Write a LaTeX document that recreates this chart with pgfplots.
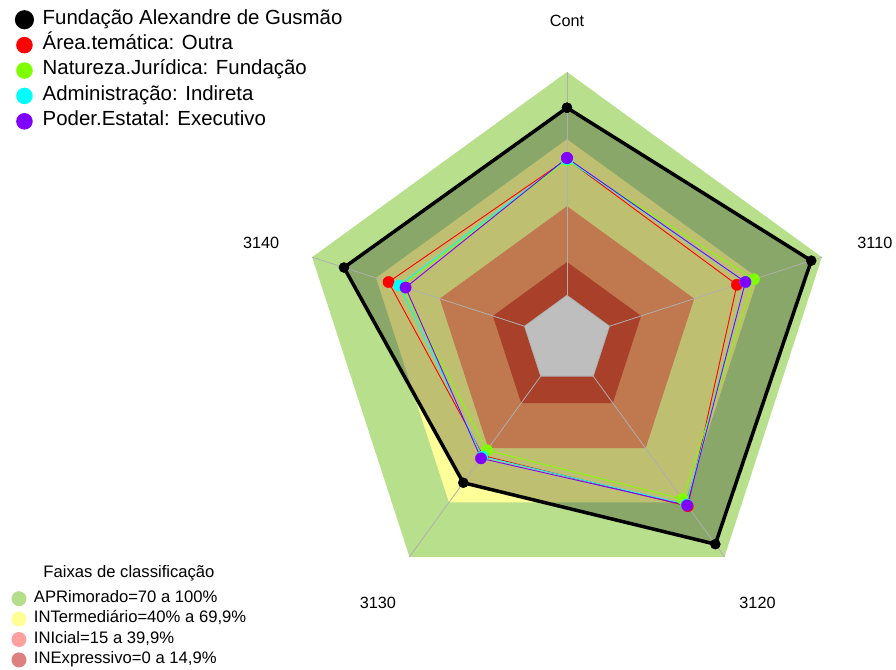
\documentclass[border=0pt]{standalone}
\usepackage{pgfplots}
\pgfplotsset{compat=1.18}
\usepackage{pgfplotstable}
\usepgfplotslibrary{polar}
\usepackage{fontspec}
\setmainfont{Liberation Sans}

\definecolor{aprF}{RGB}{184,224,140}
\definecolor{intF}{RGB}{255,255,153}
\definecolor{iniF}{RGB}{192,120,78}
\definecolor{ineF}{RGB}{168,64,42}
\definecolor{ctrF}{RGB}{190,190,190}
\definecolor{aprL}{RGB}{181,222,138}
\definecolor{intL}{RGB}{255,255,150}
\definecolor{iniL}{RGB}{255,160,160}
\definecolor{ineL}{RGB}{222,128,128}
\definecolor{sgreen}{RGB}{127,255,0}
\definecolor{scyan}{RGB}{0,255,255}
\definecolor{spurple}{RGB}{128,0,255}
\definecolor{gridc}{RGB}{175,175,175}

% angle of each axis (Cont, 3110, 3120, 3130, 3140), first row repeated to close
\pgfplotstableread{
ang apr int ini ine zero
90  100 69.9 39.9 14.9 0
18  100 69.9 39.9 14.9 0
306 100 69.9 39.9 14.9 0
234 100 69.9 39.9 14.9 0
162 100 69.9 39.9 14.9 0
90  100 69.9 39.9 14.9 0
}\bands

\pgfplotstableread{
ang black red green cyan purple
90  84 61 60.5 61   61.5
18  95 60 68   64   64
306 93 72 68   71   71.5
234 59 44 41   44.5 45.5
162 85 64 58   59   56
90  84 61 60.5 61   61.5
}\series

\begin{document}
\begin{tikzpicture}
\useasboundingbox (-567bp,-330bp) rectangle (329bp,340bp);
\pgfplotsset{radar/.style={width=536bp,height=536bp,scale only axis,hide axis,clip=false,
  xmin=0,xmax=360,ymin=0,ymax=120,at={(0,0)},anchor=center}}
\begin{polaraxis}[radar,
  legend cell align=left,
  legend image code/.code={\fill[#1] (0bp,0bp) circle (7.5bp);},
  legend style={at={(-0.5364,0.0364)},anchor=north west,draw=none,fill=none,
    inner sep=0pt,outer sep=0pt,row sep=0pt,
    font=\fontsize{16.7}{20}\selectfont,
    nodes={inner sep=0pt,text height=14bp,text depth=6.4bp},
    /tikz/every odd column/.append style={column sep=7.5bp}}]
\addplot[fill=aprF,draw=none,forget plot] table[x=ang,y expr=\thisrow{apr}+20]{\bands};
\addplot[fill=intF,draw=none,forget plot] table[x=ang,y expr=\thisrow{int}+20]{\bands};
\addplot[fill=black,fill opacity=0.25,draw=none,forget plot] table[x=ang,y expr=\thisrow{black}+20]{\series};
\addplot[fill=iniF,draw=none,forget plot] table[x=ang,y expr=\thisrow{ini}+20]{\bands};
\addplot[fill=ineF,draw=none,forget plot] table[x=ang,y expr=\thisrow{ine}+20]{\bands};
\addplot[fill=ctrF,draw=gridc,line width=0.8bp,forget plot] table[x=ang,y expr=\thisrow{zero}+20]{\bands};
\addplot[gridc,line width=0.8bp,forget plot] coordinates {(90,20) (90,120)};
\addplot[gridc,line width=0.8bp,forget plot] coordinates {(18,20) (18,120)};
\addplot[gridc,line width=0.8bp,forget plot] coordinates {(306,20) (306,120)};
\addplot[gridc,line width=0.8bp,forget plot] coordinates {(234,20) (234,120)};
\addplot[gridc,line width=0.8bp,forget plot] coordinates {(162,20) (162,120)};
\addlegendimage{fill=aprL,draw=none}\addlegendentry{APRimorado=70 a 100\%}
\addlegendimage{fill=intL,draw=none}\addlegendentry{INTermediário=40\% a 69,9\%}
\addlegendimage{fill=iniL,draw=none}\addlegendentry{INIcial=15 a 39,9\%}
\addlegendimage{fill=ineL,draw=none}\addlegendentry{INExpressivo=0 a 14,9\%}
\end{polaraxis}
\begin{polaraxis}[radar,
  legend cell align=left,
  legend image code/.code={\fill[#1] (0bp,0bp) circle (7.8bp);},
  legend style={at={(-0.5300,1.1212)},anchor=north west,draw=none,fill=none,
    inner sep=0pt,outer sep=0pt,row sep=0pt,
    font=\fontsize{20.5}{24}\selectfont,
    nodes={inner sep=0pt,text height=17bp,text depth=8.4bp},
    /tikz/every odd column/.append style={column sep=8.7bp}}]
\addplot[black,line width=3.5bp,line join=round,mark=*,mark size=5bp,mark options={line width=0.5bp}]
  table[x=ang,y expr=\thisrow{black}+20]{\series};
\addlegendentry{Fundação Alexandre de Gusmão}
\addplot[red,line width=0.9bp,mark=*,mark size=5.7bp,mark options={line width=0.3bp}]
  table[x=ang,y expr=\thisrow{red}+20]{\series};
\addlegendentry{Área.temática: Outra}
\addplot[sgreen,line width=0.9bp,mark=*,mark size=5.7bp,mark options={line width=0.3bp}]
  table[x=ang,y expr=\thisrow{green}+20]{\series};
\addlegendentry{Natureza.Jurídica: Fundação}
\addplot[scyan,line width=0.9bp,mark=*,mark size=5.7bp,mark options={line width=0.3bp}]
  table[x=ang,y expr=\thisrow{cyan}+20]{\series};
\addlegendentry{Administração: Indireta}
\addplot[spurple,line width=0.9bp,mark=*,mark size=5.7bp,mark options={line width=0.3bp}]
  table[x=ang,y expr=\thisrow{purple}+20]{\series};
\addlegendentry{Poder.Estatal: Executivo}
\node[font=\fontsize{16.3}{19}\selectfont,yshift=-2.5bp] at (axis cs:90,144) {Cont};
\node[font=\fontsize{16.3}{19}\selectfont,yshift=-2.5bp,xshift=2bp] at (axis cs:18,144) {3110};
\node[font=\fontsize{16.3}{19}\selectfont,yshift=-2.5bp,xshift=1.5bp] at (axis cs:306,144) {3120};
\node[font=\fontsize{16.3}{19}\selectfont,yshift=-2.5bp] at (axis cs:234,144) {3130};
\node[font=\fontsize{16.3}{19}\selectfont,yshift=-2.5bp] at (axis cs:162,144) {3140};
\end{polaraxis}
\node[font=\fontsize{16.7}{20}\selectfont] at (-438bp,-233bp) {Faixas de classificação};
\end{tikzpicture}
\end{document}
